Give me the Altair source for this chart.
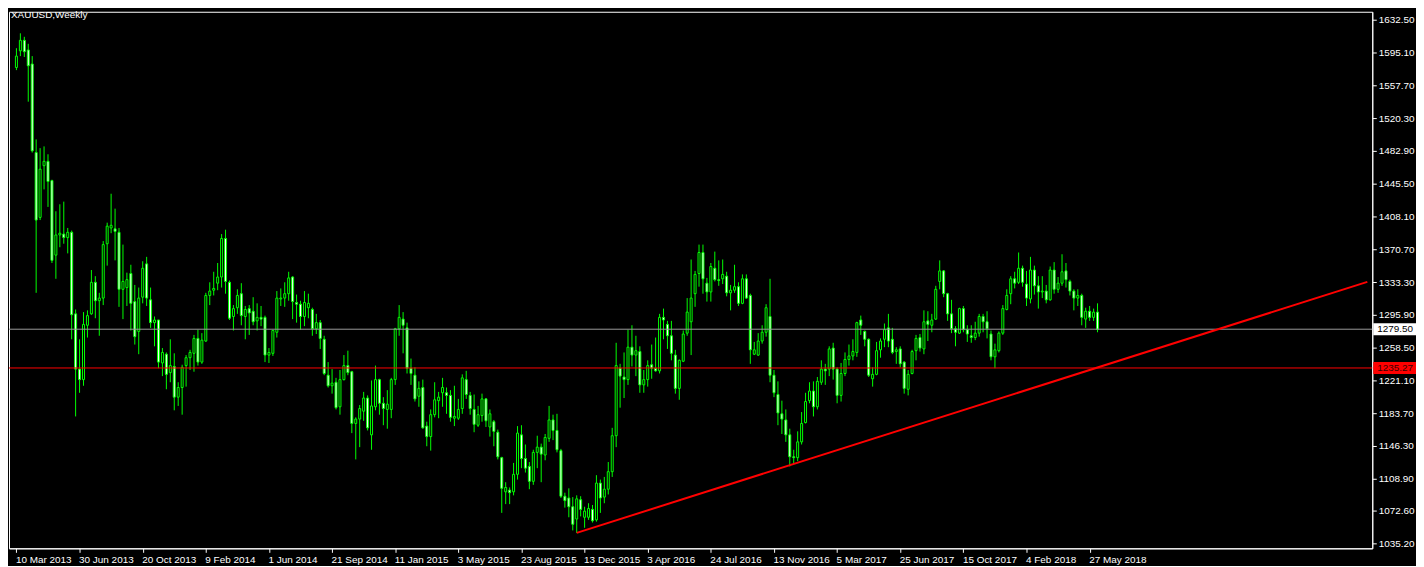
import altair as alt
import pandas as pd

# ---- data (weekly XAUUSD, 10 Mar 2013 .. Jun 2018) ----
OPEN = [1578,1597,1609,1598,1582,1481,1407,1466,1471,1449,1364,1387,1388,1384,1390,1297,1234,1222,1284,1297,
        1333,1312,1315,1377,1395,1394,1390,1325,1327,1343,1311,1277,1316,1354,1313,1287,1290,1241,1251,1230,
        1237,1202,1213,1238,1247,1252,1269,1242,1266,1318,1324,1332,1339,1383,1333,1294,1304,1320,1294,1303,
        1300,1289,1293,1293,1250,1252,1276,1314,1315,1320,1339,1310,1308,1294,1304,1302,1280,1287,1268,1227,
        1215,1219,1191,1222,1238,1231,1172,1177,1186,1201,1159,1191,1222,1195,1188,1188,1222,1280,1291,1281,
        1235,1227,1203,1213,1169,1157,1182,1198,1207,1207,1204,1178,1178,1189,1222,1204,1188,1170,1181,1200,
        1168,1174,1162,1133,1094,1096,1094,1114,1159,1132,1123,1106,1139,1145,1136,1155,1176,1164,1141,1089,
        1087,1077,1063,1085,1065,1065,1074,1062,1104,1088,1097,1117,1158,1235,1225,1222,1259,1250,1254,1216,
        1222,1239,1235,1232,1293,1285,1272,1250,1212,1243,1275,1288,1320,1343,1367,1332,1322,1349,1336,1337,
        1340,1321,1324,1328,1309,1337,1318,1251,1250,1266,1276,1294,1227,1205,1183,1176,1159,1134,1133,1151,
        1173,1198,1209,1191,1219,1234,1234,1258,1234,1204,1229,1245,1249,1253,1290,1277,1268,1223,1228,1256,
        1268,1281,1268,1254,1257,1242,1211,1229,1255,1270,1257,1289,1284,1291,1334,1346,1320,1297,1280,1275,
        1303,1279,1272,1270,1275,1294,1288,1274,1248,1255,1275,1302,1320,1337,1333,1349,1331,1314,1347,1329,
        1322,1323,1313,1347,1325,1332,1346,1334,1323,1315,1318,1291,1300,1293,1299]
HIGH = [1600,1617,1613,1605,1591,1496,1486,1488,1479,1450,1414,1422,1425,1395,1392,1302,1268,1299,1301,1347,
        1340,1321,1380,1401,1434,1417,1395,1376,1344,1353,1330,1327,1357,1362,1327,1294,1290,1258,1253,1268,
        1252,1219,1239,1250,1256,1273,1279,1275,1321,1333,1345,1355,1388,1393,1335,1307,1325,1332,1306,1307,
        1316,1309,1306,1295,1258,1279,1323,1326,1333,1345,1340,1319,1312,1323,1320,1304,1297,1290,1272,1242,
        1234,1224,1233,1250,1255,1232,1179,1193,1208,1204,1221,1238,1223,1202,1210,1224,1281,1307,1299,1287,
        1246,1236,1220,1222,1174,1188,1219,1208,1224,1213,1210,1215,1200,1228,1232,1208,1205,1192,1206,1201,
        1188,1176,1165,1134,1105,1099,1127,1169,1170,1148,1128,1142,1158,1149,1160,1192,1182,1183,1143,1093,
        1098,1088,1090,1089,1077,1081,1079,1113,1108,1111,1128,1167,1264,1240,1253,1279,1284,1272,1260,1233,
        1244,1262,1270,1297,1303,1289,1289,1256,1245,1278,1315,1359,1346,1376,1376,1338,1355,1368,1358,1359,
        1345,1330,1353,1333,1342,1342,1320,1265,1275,1284,1308,1337,1233,1220,1198,1188,1166,1142,1163,1185,
        1207,1219,1220,1225,1244,1240,1260,1264,1236,1241,1253,1262,1268,1288,1295,1278,1269,1236,1265,1269,
        1286,1297,1281,1259,1260,1243,1233,1256,1273,1274,1301,1300,1297,1329,1358,1347,1321,1313,1283,1304,
        1306,1284,1284,1288,1297,1297,1300,1278,1263,1277,1307,1325,1340,1345,1367,1352,1346,1362,1352,1340,
        1340,1330,1351,1356,1339,1365,1355,1336,1325,1325,1320,1304,1306,1303,1309]
LOW = [1575,1591,1590,1539,1481,1321,1404,1439,1419,1355,1337,1373,1377,1366,1268,1180,1207,1215,1270,1296,
       1292,1272,1307,1352,1389,1358,1305,1291,1306,1278,1262,1251,1309,1306,1281,1260,1235,1226,1211,1219,
       1187,1192,1182,1214,1233,1231,1238,1240,1265,1307,1318,1324,1327,1320,1290,1278,1297,1284,1268,1273,
       1284,1278,1283,1242,1241,1249,1270,1306,1305,1312,1291,1287,1279,1283,1292,1272,1274,1257,1227,1213,
       1206,1188,1182,1221,1227,1161,1131,1145,1175,1164,1142,1187,1182,1170,1166,1178,1216,1272,1252,1229,
       1216,1197,1191,1166,1146,1141,1179,1178,1191,1183,1174,1169,1176,1183,1200,1182,1162,1168,1174,1168,
       1157,1146,1131,1070,1080,1080,1090,1108,1121,1116,1097,1102,1121,1105,1130,1151,1153,1139,1087,1076,
       1065,1050,1047,1066,1053,1062,1059,1060,1070,1081,1091,1111,1145,1190,1201,1216,1237,1226,1207,1207,
       1214,1223,1231,1229,1268,1257,1244,1206,1199,1242,1272,1250,1305,1328,1320,1311,1311,1334,1329,1331,
       1317,1301,1321,1306,1308,1314,1240,1250,1249,1263,1271,1219,1202,1170,1160,1151,1123,1126,1129,1148,
       1172,1195,1180,1188,1216,1216,1226,1222,1195,1197,1226,1238,1244,1248,1273,1260,1225,1214,1227,1247,
       1259,1259,1251,1240,1236,1206,1204,1228,1244,1254,1251,1266,1276,1290,1325,1316,1289,1275,1260,1274,
       1276,1265,1264,1267,1271,1276,1269,1244,1235,1253,1273,1301,1308,1326,1331,1328,1306,1309,1319,1303,
       1315,1309,1312,1320,1321,1329,1327,1318,1301,1306,1284,1281,1289,1289,1276]
CLOSE = [1591,1609,1596,1580,1483,1404,1462,1471,1448,1358,1387,1389,1384,1390,1296,1234,1222,1285,1295,1333,
         1312,1315,1376,1397,1398,1391,1325,1334,1336,1309,1271,1315,1349,1315,1287,1290,1242,1253,1228,1238,
         1202,1213,1236,1247,1253,1269,1242,1267,1318,1323,1326,1339,1383,1334,1292,1303,1318,1295,1302,1298,
         1288,1293,1291,1250,1253,1278,1315,1315,1320,1338,1311,1308,1294,1310,1309,1280,1287,1269,1229,1215,
         1218,1190,1222,1238,1230,1172,1177,1189,1201,1167,1192,1222,1195,1189,1194,1222,1280,1293,1284,1235,
         1229,1200,1212,1167,1157,1182,1199,1202,1213,1204,1179,1180,1188,1224,1205,1189,1171,1182,1200,1175,
         1183,1163,1134,1098,1099,1093,1114,1161,1132,1121,1106,1139,1145,1137,1156,1176,1164,1142,1089,1084,
         1077,1057,1086,1074,1072,1075,1061,1104,1087,1097,1117,1158,1238,1226,1222,1259,1250,1255,1216,1222,
         1238,1235,1232,1293,1290,1272,1252,1212,1244,1274,1299,1315,1342,1367,1337,1322,1351,1336,1335,1342,
         1321,1324,1328,1309,1337,1315,1256,1256,1266,1276,1304,1227,1207,1184,1177,1159,1134,1133,1151,1172,
         1197,1209,1191,1220,1234,1232,1257,1234,1204,1229,1245,1249,1254,1287,1284,1268,1227,1228,1255,1266,
         1279,1266,1253,1256,1240,1212,1228,1254,1269,1258,1288,1285,1290,1325,1346,1320,1297,1280,1276,1303,
         1279,1274,1270,1275,1294,1288,1280,1248,1256,1275,1303,1318,1337,1332,1349,1333,1315,1347,1329,1322,
         1323,1313,1347,1325,1332,1345,1336,1323,1315,1318,1293,1300,1293,1299,1279.5]

DATE_LABELS = ["10 Mar 2013", "30 Jun 2013", "20 Oct 2013", "9 Feb 2014", "1 Jun 2014", "21 Sep 2014",
               "11 Jan 2015", "3 May 2015", "23 Aug 2015", "13 Dec 2015", "3 Apr 2016", "24 Jul 2016",
               "13 Nov 2016", "5 Mar 2017", "25 Jun 2017", "15 Oct 2017", "4 Feb 2018", "27 May 2018"]
LABEL_STEP = 16  # weeks between date labels

PRICE_TICKS = [1632.50, 1595.10, 1557.70, 1520.30, 1482.90, 1445.50, 1408.10, 1370.70, 1333.30,
               1295.90, 1258.50, 1221.10, 1183.70, 1146.30, 1108.90, 1072.60, 1035.20]

BID = 1279.50
LEVEL = 1235.27
TREND_IDX = [142, 342.375]
TREND_PRICE = [1047.2, 1333.5]
TITLE = "XAUUSD,Weekly"

# ---- build tables ----
df = pd.DataFrame({"i": list(range(len(OPEN))), "open": OPEN, "high": HIGH, "low": LOW, "close": CLOSE})
trend = pd.DataFrame({"i": TREND_IDX, "price": TREND_PRICE})

W, H = 1372, 540
FONT = "Liberation Sans"
GREEN = "#00FF00"

xs = alt.Scale(domain=[-0.625, 342.375], nice=False, zero=False)
ys = alt.Scale(domain=[1029.57, 1641.57], nice=False, zero=False)

label_arr = "[" + ",".join("'" + s + "'" for s in DATE_LABELS) + "]"
xaxis = alt.Axis(values=[k * LABEL_STEP for k in range(len(DATE_LABELS))],
                 labelExpr=label_arr + "[round(datum.value/" + str(LABEL_STEP) + ")]",
                 labelAlign="left", labelColor="white", labelFont=FONT, labelFontSize=10,
                 labelPadding=2, labelOffset=-1, labelFlush=False, labelOverlap=False,
                 tickColor="white", tickSize=4, domainColor="white", grid=False, title=None)
yaxis = alt.Axis(orient="right", values=PRICE_TICKS, format=".2f", labelColor="white", labelFont=FONT,
                 labelFontSize=10, labelPadding=2, labelOverlap=False, labelFlush=False,
                 tickColor="white", tickSize=4, domainColor="white", grid=False, title=None)


def X(field):
    return alt.X(field, scale=xs, axis=xaxis)


def Y(field):
    return alt.Y(field, scale=ys, axis=yaxis)


base = alt.Chart(df)

wicks = base.mark_rule(color=GREEN, strokeWidth=1).encode(
    x=X("i:Q"), y=Y("low:Q"), y2="high:Q")

bodies = base.mark_bar(size=2, stroke=GREEN, strokeWidth=1).encode(
    x=X("i:Q"), y=Y("open:Q"), y2="close:Q",
    fill=alt.condition("datum.close < datum.open", alt.value("white"), alt.value("black")),
)

bid_line = alt.Chart(pd.DataFrame({"p": [BID]})).mark_rule(color="#9A9A9A", strokeWidth=1).encode(
    y=Y("p:Q"))
level_line = alt.Chart(pd.DataFrame({"p": [LEVEL]})).mark_rule(color="#FF0000", strokeWidth=1).encode(
    y=Y("p:Q"))

trend_line = alt.Chart(trend).mark_line(color="#FF0000", strokeWidth=2).encode(
    x=X("i:Q"), y=Y("price:Q"))

tags = pd.DataFrame({"p": [BID, LEVEL], "bg": ["white", "#FF0000"], "fg": ["black", "#3a0000"]})
tag_box = alt.Chart(tags).mark_tick(orient="horizontal", size=43, thickness=12, opacity=1).encode(
    x=alt.value(W + 22.5), y=Y("p:Q"), color=alt.Color("bg:N", scale=None))
tag_text = alt.Chart(tags).mark_text(align="left", baseline="middle", font=FONT, fontSize=10).encode(
    x=alt.value(W + 5), y=Y("p:Q"), text=alt.Text("p:Q", format=".2f"),
    color=alt.Color("fg:N", scale=None))

title = alt.Chart(pd.DataFrame({"t": [TITLE]})).mark_text(
    align="left", baseline="middle", font=FONT, fontSize=10, color="white").encode(
    x=alt.value(2), y=alt.value(3), text="t:N")

chart = alt.layer(wicks, bodies, bid_line, level_line, trend_line, tag_box, tag_text, title).properties(
    width=W, height=H, padding=0, background="black"
).configure_view(stroke="white", strokeWidth=1)

chart.save("out.html", embed_options={"renderer": "svg", "actions": False})
